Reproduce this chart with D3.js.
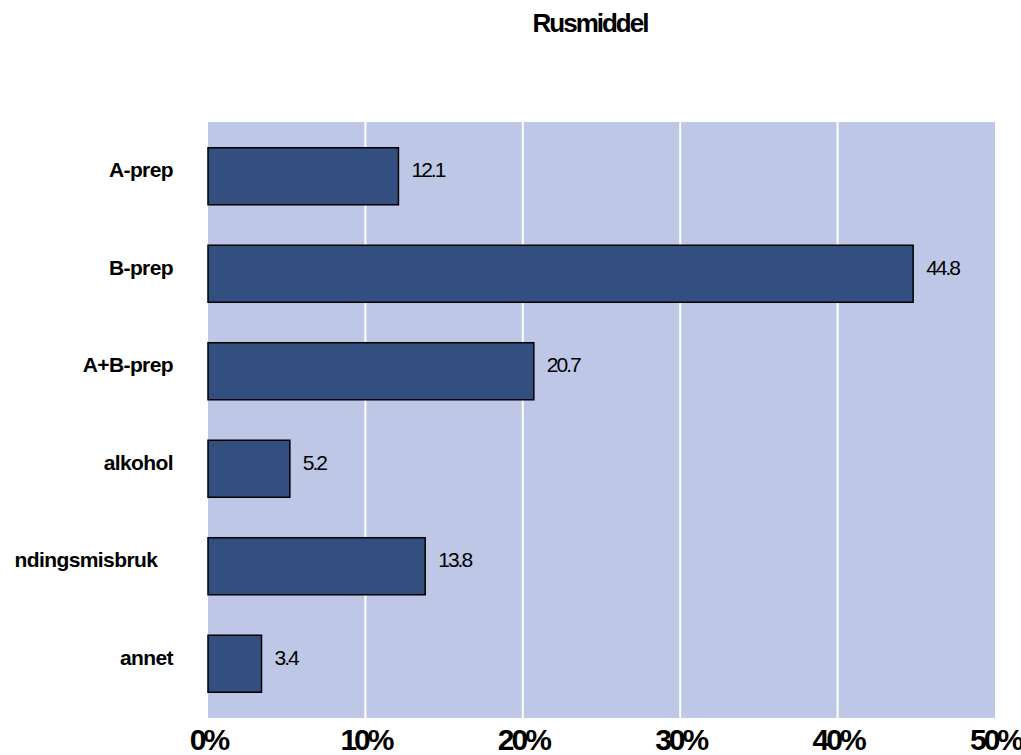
<!DOCTYPE html>
<html>
<head>
<meta charset="utf-8">
<script src="https://cdn.jsdelivr.net/npm/d3@7"></script>
<style>
  body { margin: 0; background: #fff; overflow: hidden; }
  svg { font-family: "Liberation Sans", Arial, sans-serif; display: block; }
  .cat { white-space: pre; }
</style>
</head>
<body>
<div id="chart"></div>
<script>
// category text as it appears in the picture (start of the long label is cut off there)
const categories = ["A-prep", "B-prep", "A+B-prep", "alkohol", "ndingsmisbruk   ", "annet"];
const values = [12.1, 44.8, 20.7, 5.2, 13.8, 3.4];
const ticks = [0, 10, 20, 30, 40, 50];
const title = "Rusmiddel";

const W = 1021, H = 755;
const plot = {left: 208, right: 995, top: 122, bottom: 718};

const svg = d3.select("#chart").append("svg")
  .attr("width", W).attr("height", H);

const x = d3.scaleLinear().domain([0, 50]).range([plot.left, plot.right]);
const y = d3.scaleBand().domain(categories)
  .range([plot.top, plot.bottom])
  .paddingInner(0.415).paddingOuter(0.264);

// background
svg.append("rect")
  .attr("x", plot.left).attr("y", plot.top)
  .attr("width", plot.right - plot.left).attr("height", plot.bottom - plot.top)
  .attr("fill", "#bec8e6");

// grid
svg.selectAll("line.grid")
  .data(ticks.slice(1, -1))
  .join("line")
  .attr("class", "grid")
  .attr("x1", d => x(d)).attr("x2", d => x(d))
  .attr("y1", plot.top).attr("y2", plot.bottom)
  .attr("stroke", "#fff").attr("stroke-width", 2);

// bars
svg.selectAll("rect.bar")
  .data(values)
  .join("rect")
  .attr("class", "bar")
  .attr("x", x(0))
  .attr("y", (d, i) => y(categories[i]))
  .attr("width", d => x(d) - x(0))
  .attr("height", y.bandwidth())
  .attr("fill", "#334f80")
  .attr("stroke", "#000").attr("stroke-width", 1.5);

// value labels
svg.selectAll("text.val")
  .data(values)
  .join("text")
  .attr("class", "val")
  .attr("x", d => x(d) + 13)
  .attr("y", (d, i) => y(categories[i]) + y.bandwidth() / 2 + 1)
  .attr("font-size", 21)
  .attr("letter-spacing", -2)
  .attr("fill", "#000")
  .text(d => d.toFixed(1));

// category labels
svg.selectAll("text.cat")
  .data(categories)
  .join("text")
  .attr("class", "cat")
  .attr("x", 173)
  .attr("y", d => y(d) + y.bandwidth() / 2 + 1)
  .attr("text-anchor", "end")
  .attr("font-size", 21)
  .attr("font-weight", "bold")
  .attr("letter-spacing", -0.6)
  .text(d => d);

// x axis labels
const xAxis = d3.axisBottom(x).tickValues(ticks).tickSize(0).tickPadding(11)
  .tickFormat(d => d + "%");
svg.append("g")
  .attr("transform", `translate(0,${plot.bottom})`)
  .call(xAxis)
  .call(g => g.select(".domain").remove())
  .selectAll("text")
  .attr("font-family", "Liberation Sans, Arial, sans-serif")
  .attr("font-size", 30)
  .attr("font-weight", "bold")
  .attr("letter-spacing", -3)
  .attr("fill", "#000");

// title
svg.append("text")
  .attr("x", 590).attr("y", 32)
  .attr("text-anchor", "middle")
  .attr("font-size", 26)
  .attr("font-weight", "bold")
  .attr("letter-spacing", -2)
  .text(title);
</script>
</body>
</html>
